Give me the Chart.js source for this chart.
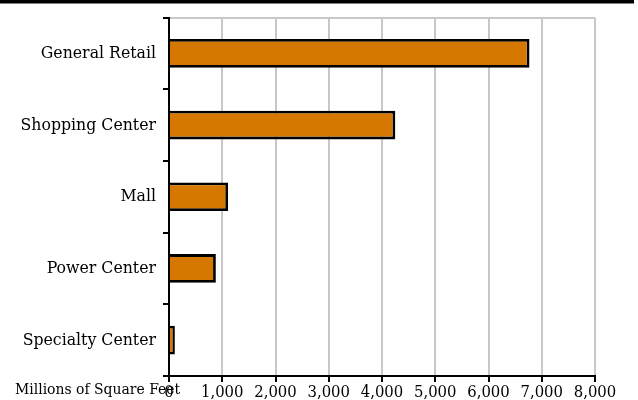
<!DOCTYPE html>
<html>
<head>
<meta charset="utf-8">
<script src="https://cdn.jsdelivr.net/npm/chart.js@4/dist/chart.umd.min.js"></script>
<style>
  html, body { margin: 0; padding: 0; background: #fff; }
  #wrap { width: 638px; height: 400px; position: relative; }
</style>
</head>
<body>
<div id="wrap"><canvas id="c" width="638" height="400"></canvas></div>
<script>
// Retail space by property type
const categories = ['General Retail', 'Shopping Center', 'Mall', 'Power Center', 'Specialty Center'];
const squareFeet = [6770, 4250, 1110, 880, 110];
const axisTitle = 'Millions of Square Feet';
const xTicks = [0, 1000, 2000, 3000, 4000, 5000, 6000, 7000, 8000];

const FONT = "'DejaVu Serif Condensed', 'DejaVu Serif', serif";

// Heavy rule across the top and the axis caption on the tick-label row
const decorations = {
  id: 'decorations',
  beforeDraw(chart) {
    const ctx = chart.ctx;
    ctx.save();
    ctx.fillStyle = '#000';
    ctx.fillRect(0, 0, 634, 3.5);
    ctx.restore();
  },
  afterDraw(chart) {
    const ctx = chart.ctx;
    ctx.save();
    ctx.fillStyle = '#000';
    ctx.font = "15.5px " + FONT;
    ctx.textBaseline = 'middle';
    ctx.textAlign = 'left';
    ctx.fillText(axisTitle, 15, 390);
    ctx.restore();
  }
};

new Chart(document.getElementById('c'), {
  type: 'bar',
  data: {
    labels: categories,
    datasets: [{
      data: squareFeet,
      backgroundColor: '#D67800',
      borderColor: '#000',
      borderWidth: 2.8,
      borderSkipped: 'start',
      barPercentage: 0.4,
      categoryPercentage: 1
    }]
  },
  options: {
    indexAxis: 'y',
    responsive: false,
    animation: false,
    devicePixelRatio: 1,
    layout: { padding: { top: 16, right: 43, left: 0, bottom: 0 } },
    plugins: { legend: { display: false }, tooltip: { enabled: false } },
    scales: {
      x: {
        min: xTicks[0],
        max: xTicks[xTicks.length - 1],
        afterBuildTicks(scale) { scale.ticks = xTicks.map(v => ({ value: v })); },
        afterFit(scale) { scale.height = 24; },
        grid: {
          color: '#c8c8c8',
          lineWidth: 2,
          tickColor: '#000',
          tickLength: 6,
          tickWidth: 2
        },
        border: { color: '#000', width: 2 },
        ticks: {
          color: '#000',
          padding: 1,
          maxRotation: 0,
          autoSkip: false,
          font: { family: FONT, size: 16.5 },
          callback: v => v.toLocaleString('en-US')
        }
      },
      y: {
        afterFit(scale) { scale.width = 169; },
        grid: {
          offset: true,
          color: ctx => ctx.index === 0 ? '#c8c8c8' : 'rgba(0,0,0,0)',
          lineWidth: 2,
          tickColor: '#000',
          tickLength: 6,
          tickWidth: 2
        },
        border: { color: '#000', width: 2 },
        ticks: {
          color: '#000',
          padding: 7,
          font: { family: FONT, size: 17.5 }
        }
      }
    }
  },
  plugins: [decorations]
});
</script>
</body>
</html>
